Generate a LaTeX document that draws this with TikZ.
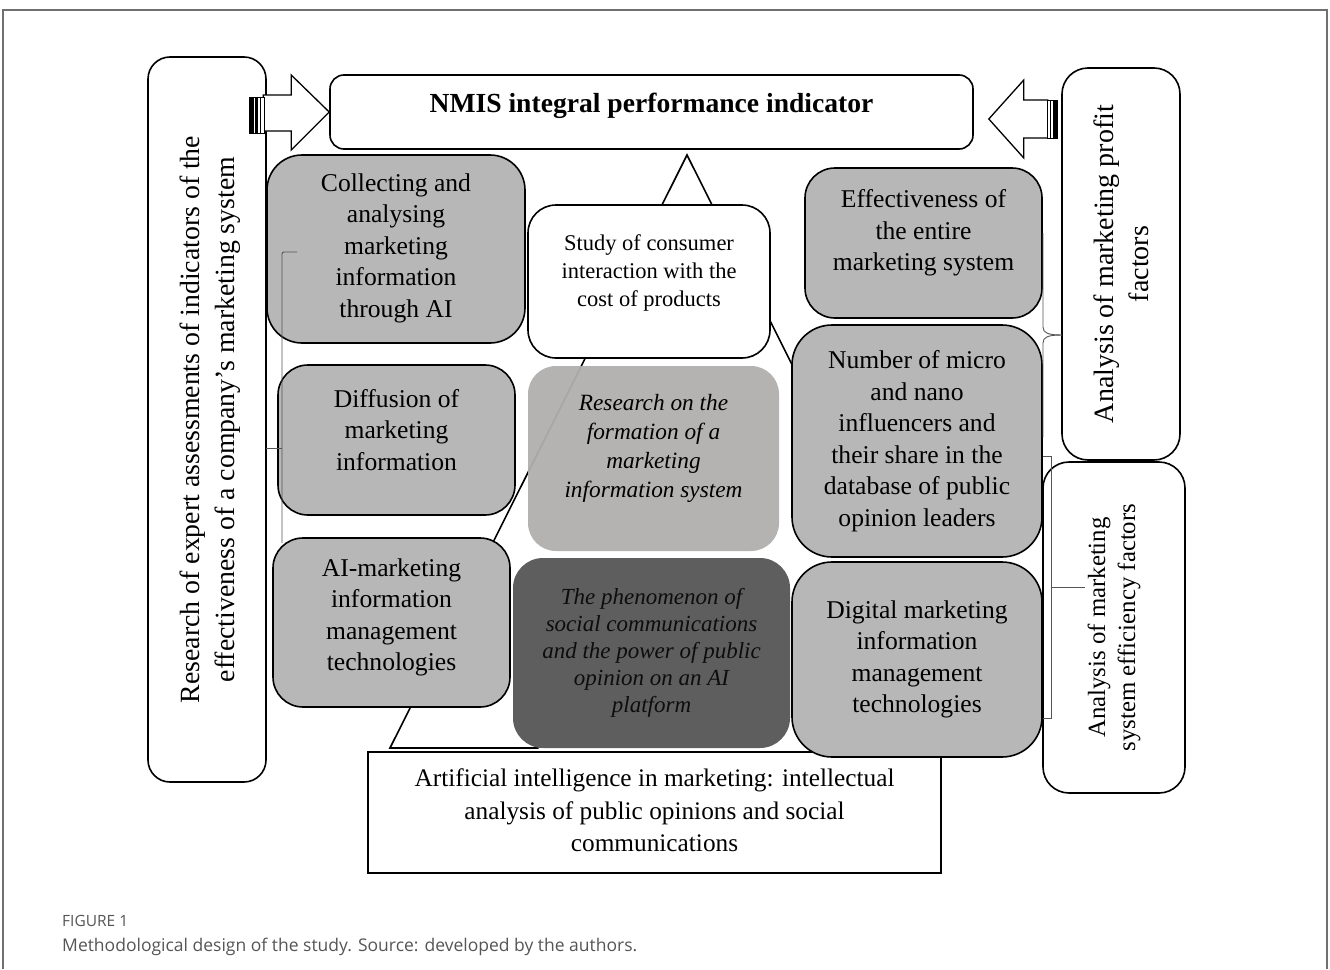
\documentclass[tikz,border=0pt]{standalone}
\usepackage{fontspec}
\setmainfont{Liberation Serif}
\newfontfamily\capfont{Open Sans}
\usetikzlibrary{calc}
\definecolor{boxgray}{HTML}{B7B7B7}
\definecolor{midgray}{HTML}{B1AEAE}
\definecolor{deepgray}{HTML}{5E5E5E}
\definecolor{framegray}{HTML}{707070}
\definecolor{capgray}{HTML}{555555}
\definecolor{bracketgray}{HTML}{555555}
\begin{document}
\begin{tikzpicture}[x=1pt,y=-1pt,
  shell/.style={draw=black, line width=1.6pt, fill=white, rounded corners=#1, inner sep=0pt},
  shell/.default=22pt,
  graybox/.style={draw=black, line width=1.6pt, fill=boxgray, rounded corners=#1, inner sep=0pt},
  graybox/.default=34pt,
  txt/.style={align=center, inner sep=0pt},
  boxtext/.style={txt, font=\fontsize{25.6}{31.5}\selectfont},
  blockarrow/.style={draw=black, line width=1.3pt, fill=white, line join=miter},
  bracket/.style={draw=bracketgray, line width=0.9pt},
]
\useasboundingbox (0,0) rectangle (1330,969);

% figure frame
\draw[framegray, line width=1.6pt] (3,969) -- (3,10) -- (1327,10) -- (1327,969);

% central triangle behind the middle column (only its visible parts)
\coordinate (apex) at (687,155);
\coordinate (baseL) at (390,748);
\coordinate (baseR) at (984,748);
\draw[line width=1.6pt, line join=miter]
  ($(apex)!0.36!(baseR)$) -- (apex) -- (baseL) -- ($(baseL)!0.25!(baseR)$);

% side panels
\node[shell=22pt, rotate=90, minimum width=725pt, minimum height=118pt] (expert) at (207,419.5) {};
\node[txt, rotate=90, font=\fontsize{27.8}{35}\selectfont] (expert-t) at ($(expert.center)+(3,0)$)
  {Research of expert assessments of indicators of the\\effectiveness of a company's marketing system};

\node[shell=26pt, rotate=90, minimum width=392pt, minimum height=118pt] (profit) at (1121,264) {};
\node[txt, rotate=90, font=\fontsize{28}{35}\selectfont] (profit-t) at (profit.center)
  {Analysis of marketing profit\\factors};

\node[shell=26pt, rotate=90, minimum width=331pt, minimum height=142pt] (efficiency) at (1114,627.5) {};
\node[txt, rotate=90, font=\fontsize{24.8}{30}\selectfont] (efficiency-t) at (efficiency.center)
  {Analysis of marketing\\system efficiency factors};

% top indicator
\node[shell=14pt, minimum width=643pt, minimum height=74pt] (nmis) at (651.5,112) {};
\node[txt, font=\fontsize{27.6}{30}\selectfont\bfseries] (nmis-t) at ($(nmis.center)+(0,-6)$)
  {NMIS integral performance indicator};

% bottom foundation box
\node[draw=black, line width=1.6pt, fill=white, inner sep=0pt, minimum width=573pt, minimum height=121pt] (ai) at (654.5,812.5) {};
\node[txt, font=\fontsize{25.3}{32.5}\selectfont] (ai-t) at ($(ai.center)+(0,-2)$)
  {Artificial intelligence in marketing: intellectual\\analysis of public opinions and social\\communications};

% middle column
\node[shell=28pt, minimum width=242pt, minimum height=153pt] (study) at (649,281.5) {};
\node[txt, font=\fontsize{22.5}{28}\selectfont] (study-t) at ($(study.center)+(0,-9)$)
  {Study of consumer\\interaction with the\\cost of products};

\node[fill=midgray, fill opacity=0.95, rounded corners=28pt, inner sep=0pt, minimum width=251pt, minimum height=185pt] (research) at (653.5,458.5) {};
\node[txt, font=\fontsize{23.3}{29}\selectfont\itshape] (research-t) at ($(research.center)+(0,-10)$)
  {Research on the\\formation of a\\marketing\\information system};

\node[fill=deepgray, rounded corners=30pt, inner sep=0pt, minimum width=277pt, minimum height=190pt] (social) at (651.5,653) {};
\node[txt, text=black!95, font=\fontsize{23}{27}\selectfont\itshape] (social-t) at (social.center)
  {The phenomenon of\\social communications\\and the power of public\\opinion on an AI\\platform};

% left column
\node[graybox=35pt, minimum width=258pt, minimum height=188pt] (collect) at (396,249) {};
\node[boxtext] (collect-t) at ($(collect.center)+(0,-1)$)
  {Collecting and\\analysing\\marketing\\information\\through AI};

\node[graybox=30pt, minimum width=237pt, minimum height=150pt] (diffusion) at (396.5,440) {};
\node[boxtext] (diffusion-t) at ($(diffusion.center)+(0,-10)$)
  {Diffusion of\\marketing\\information};

\node[graybox=30pt, minimum width=237pt, minimum height=169pt] (aimgmt) at (391.5,622.5) {};
\node[boxtext] (aimgmt-t) at ($(aimgmt.center)+(0,-5)$)
  {AI-marketing\\information\\management\\technologies};

% right column
\node[graybox=30pt, minimum width=237pt, minimum height=150pt] (whole) at (923.5,243) {};
\node[boxtext] (whole-t) at ($(whole.center)+(0,-10)$)
  {Effectiveness of\\the entire\\marketing system};

\node[graybox=40pt, minimum width=250pt, minimum height=232pt] (influencers) at (917,441) {};
\node[boxtext] (influencers-t) at (influencers.center)
  {Number of micro\\and nano\\influencers and\\their share in the\\database of public\\opinion leaders};

\node[graybox=40pt, minimum width=250pt, minimum height=195pt] (digital) at (917,659.5) {};
\node[boxtext] (digital-t) at (digital.center)
  {Digital marketing\\information\\management\\technologies};

% brackets grouping the columns
\draw[bracket, rounded corners=2pt] (297,252) -- (282,252) -- (282,543);
\draw[bracket] (266,448) -- (282,448);
\draw[bracket] (1043,233) -- (1043,327) .. controls (1043,333) and (1048,335) .. (1062,335);
\draw[bracket] (1043,437) -- (1043,343) .. controls (1043,337) and (1048,335) .. (1062,335);
\draw[bracket] (1043,456) -- (1051,456) -- (1051,718) -- (1043,718);
\draw[bracket] (1051,587) -- (1085,587);

% striped block arrows feeding the indicator
\draw[blockarrow] (nmis.west) -- ++(-38,38) -- ++(0,-19) -- ++(-28,0) -- ++(0,-36) -- ++(28,0) -- ++(0,-20) -- cycle;
\draw[line width=1pt, fill=white] (249,97) rectangle (264,133);
\fill (249,97) rectangle (253.5,133);
\fill (255,97) rectangle (258,133);
\fill (260,97) rectangle (261,133);

\coordinate (rtip) at ($(nmis.east)+(15,7)$);
\draw[blockarrow] (rtip) -- ++(35,-39) -- ++(0,20) -- ++(24,0) -- ++(0,38) -- ++(-24,0) -- ++(0,20) -- cycle;
\draw[line width=1pt, fill=white] (1047,100) rectangle (1057,138);
\fill (1052.5,100) rectangle (1057,138);
\fill (1049.5,100) rectangle (1050.5,138);

% caption
\node[anchor=base west, inner sep=0pt, text=capgray, font=\capfont\fontsize{15.5}{18}\selectfont] (figlabel) at (62,926) {FIGURE 1};
\node[anchor=base west, inner sep=0pt, text=capgray, font=\capfont\fontsize{17.5}{20}\selectfont] (caption) at (62,951)
  {Methodological design of the study. Source: developed by the authors.};
\end{tikzpicture}
\end{document}
